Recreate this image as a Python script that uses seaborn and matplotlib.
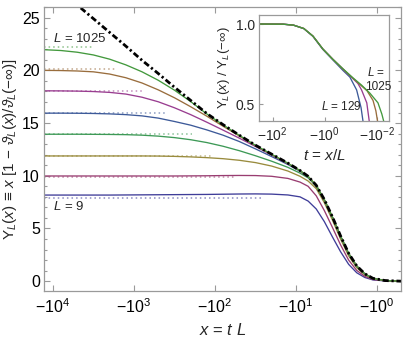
import colorsys
import numpy as np
import pandas as pd
import matplotlib
matplotlib.use("Agg")
import matplotlib.pyplot as plt
import seaborn as sns
from matplotlib.ticker import FixedLocator, FuncFormatter, MultipleLocator, NullLocator

sns.set_theme(style="ticks")
plt.rcParams['font.family'] = ['Liberation Sans', 'DejaVu Sans']
plt.rcParams['mathtext.fontset'] = 'custom'
plt.rcParams['mathtext.rm'] = 'Liberation Sans'
plt.rcParams['mathtext.it'] = 'Liberation Sans:italic'
plt.rcParams['mathtext.sf'] = 'Liberation Sans'
plt.rcParams['mathtext.fallback'] = 'stixsans'

# ---------------- data (main panel) ----------------
# log10 |x| grid
log_abs_x = [4.11, 3.9, 3.7, 3.5, 3.3, 3.1, 2.9, 2.7, 2.5, 2.3, 2.1, 1.9, 1.7, 1.5,
             1.3, 1.1, 0.95, 0.85, 0.75, 0.65, 0.55, 0.45, 0.35, 0.25, 0.15, 0.05, -0.1, -0.3]
L_values = [9, 17, 33, 65, 129, 257, 513, 1025]
Y_L9 = [8.17, 8.17, 8.17, 8.17, 8.17, 8.18, 8.19, 8.2, 8.21, 8.22, 8.23, 8.25, 8.27, 8.28,
        8.26, 8.18, 8.0, 7.6, 6.85, 5.65, 4.2, 2.8, 1.6, 0.8, 0.35, 0.12, 0.03, 0.0]
Y_L17 = [9.98, 9.98, 9.98, 9.98, 9.98, 9.98, 9.98, 9.98, 9.98, 9.99, 10.0, 10.02, 10.03, 10.02,
         9.95, 9.75, 9.4, 9.0, 8.1, 6.7, 5.1, 3.45, 2.0, 1.02, 0.46, 0.16, 0.04, 0.0]
Y_L33 = [11.88, 11.88, 11.88, 11.88, 11.88, 11.88, 11.88, 11.87, 11.84, 11.79, 11.72, 11.62, 11.47, 11.25,
         10.92, 10.45, 9.95, 9.5, 8.78, 7.45, 5.8, 4.0, 2.4, 1.28, 0.6, 0.22, 0.05, 0.0]
Y_L65 = [13.94, 13.94, 13.94, 13.93, 13.92, 13.9, 13.85, 13.76, 13.62, 13.42, 13.15, 12.8, 12.38, 11.9,
         11.38, 10.8, 10.25, 9.8, 9.0, 7.68, 6.04, 4.25, 2.6, 1.41, 0.67, 0.25, 0.06, 0.0]
Y_L129 = [15.94, 15.94, 15.93, 15.91, 15.87, 15.8, 15.68, 15.47, 15.15, 14.8, 14.35, 13.85, 13.25, 12.55,
          11.82, 11.07, 10.43, 9.9, 9.06, 7.71, 6.06, 4.26, 2.61, 1.42, 0.68, 0.26, 0.06, 0.0]
Y_L257 = [18.06, 18.05, 18.03, 17.99, 17.91, 17.75, 17.45, 17.02, 16.45, 15.8, 15.08, 14.33, 13.57, 12.78,
          11.96, 11.15, 10.47, 9.92, 9.07, 7.72, 6.07, 4.27, 2.62, 1.43, 0.69, 0.26, 0.06, 0.0]
Y_L513 = [20.0, 19.98, 19.94, 19.86, 19.65, 19.3, 18.8, 18.15, 17.4, 16.55, 15.65, 14.7, 13.78, 12.86,
          12.02, 11.18, 10.48, 9.93, 9.08, 7.73, 6.08, 4.28, 2.63, 1.43, 0.69, 0.26, 0.06, 0.0]
Y_L1025 = [21.96, 21.88, 21.72, 21.46, 21.06, 20.52, 19.86, 19.06, 18.12, 17.04, 15.86, 14.83, 13.84, 12.89,
           12.04, 11.19, 10.49, 9.94, 9.09, 7.74, 6.09, 4.29, 2.64, 1.44, 0.7, 0.27, 0.06, 0.0]
Y_inf = [28.85, 27.5, 26.2, 24.9, 23.6, 22.3, 20.95, 19.7, 18.4, 17.15, 15.9, 14.85, 13.85, 12.9,
         12.05, 11.2, 10.5, 9.95, 9.1, 7.75, 6.1, 4.3, 2.65, 1.45, 0.7, 0.27, 0.06, 0.0]
Y_curves = [Y_L9, Y_L17, Y_L33, Y_L65, Y_L129, Y_L257, Y_L513, Y_L1025]

# asymptotic plateau levels (dotted) and where the dotted guide ends (|x|)
plateau_levels = [7.92, 9.89, 11.88, 13.94, 15.94, 18.06, 20.1, 22.2]
plateau_end_abs_x = [27, 56, 110, 190, 390, 780, 1630, 3300]
plateau_start_abs_x = 12900

# ---------------- data (inset) ----------------
inset_L = [129, 257, 513, 1025]
inset_log_t = {
    129: [2.52, 1.6, 1.2, 0.8, 0.45, 0.07, -0.32, -0.70, -0.97, -1.23, -1.40, -1.48, -1.53],
    257: [2.52, 1.6, 1.2, 0.8, 0.45, 0.07, -0.32, -0.70, -1.09, -1.28, -1.42, -1.62, -1.72, -1.78],
    513: [2.52, 1.6, 1.2, 0.8, 0.45, 0.07, -0.32, -0.70, -1.09, -1.42, -1.63, -1.86, -1.97, -2.04, -2.1],
    1025: [2.52, 1.6, 1.2, 0.8, 0.45, 0.07, -0.32, -0.70, -1.09, -1.42, -1.74, -2.05, -2.2, -2.28, -2.35],
}
inset_ratio = {
    129: [1.0, 0.999, 0.993, 0.971, 0.923, 0.842, 0.776, 0.712, 0.67, 0.59, 0.48, 0.39, 0.3],
    257: [1.0, 0.999, 0.993, 0.972, 0.925, 0.845, 0.78, 0.72, 0.66, 0.63, 0.59, 0.51, 0.39, 0.3],
    513: [1.0, 0.999, 0.993, 0.972, 0.925, 0.845, 0.78, 0.721, 0.663, 0.615, 0.585, 0.525, 0.46, 0.39, 0.3],
    1025: [1.0, 0.999, 0.993, 0.972, 0.925, 0.845, 0.78, 0.722, 0.665, 0.62, 0.57, 0.51, 0.44, 0.39, 0.3],
}

# Mathematica-style default hues
hues = [0.67, 0.906, 0.142, 0.378, 0.614, 0.850, 0.0864, 0.322]
colors = {L: colorsys.hsv_to_rgb(h, 0.6, 0.6) for L, h in zip(L_values, hues)}
light = {L: tuple(0.6 * c + 0.4 for c in colors[L]) for L in L_values}

frame_col = '#9a9a9a'

fig = plt.figure(figsize=(4.03, 3.38), dpi=100)
ax = fig.add_axes([0.109, 0.14, 0.886, 0.839])

abs_x = [10 ** v for v in log_abs_x]

# dotted plateau guides
for L, lev, xe in zip(L_values, plateau_levels, plateau_end_abs_x):
    sns.lineplot(x=[plateau_start_abs_x, xe], y=[lev, lev], ax=ax, color=light[L],
                 lw=1.1, linestyle=(0, (1, 2)), sort=False, estimator=None)

df = pd.DataFrame({
    'absx': np.tile(abs_x, len(L_values)),
    'Y': np.concatenate([np.array(y) for y in Y_curves]),
    'L': np.repeat([str(L) for L in L_values], len(abs_x)),
})
sns.lineplot(data=df, x='absx', y='Y', hue='L', ax=ax, legend=False, sort=False,
             estimator=None, lw=0.95,
             palette={str(L): colors[L] for L in L_values})
sns.lineplot(x=abs_x, y=Y_inf, ax=ax, color='black', lw=2.0,
             linestyle=(0, (2.2, 1.0, 0.8, 1.0)), sort=False, estimator=None)

ax.set_xscale('log')
ax.set_xlim(10 ** 4.111, 10 ** -0.296)
ax.set_ylim(-0.9, 26.0)
ax.xaxis.set_major_locator(FixedLocator([1e4, 1e3, 1e2, 1e1, 1e0]))
ax.xaxis.set_minor_locator(NullLocator())
ax.xaxis.set_major_formatter(FuncFormatter(lambda v, p: r'$-10^{%d}$' % int(round(np.log10(v)))))
ax.yaxis.set_major_locator(MultipleLocator(5))
ax.yaxis.set_minor_locator(MultipleLocator(1))
ax.tick_params(which='both', direction='in', top=True, right=True, color=frame_col,
               labelsize=11.5, labelcolor='black', width=0.8)
ax.tick_params(which='major', length=4)
ax.tick_params(which='minor', length=2.2)
ax.tick_params(axis='y', pad=3)
ax.tick_params(axis='x', pad=5)
for s in ax.spines.values():
    s.set_color(frame_col)
    s.set_linewidth(0.9)
ax.set_xlabel(r'$x$ = $t\ L$', fontsize=12, labelpad=4)
ax.set_ylabel(r'$\Upsilon_L(x)\, \equiv\, x\ [1\, -\, \vartheta_L(x)/\vartheta_L(-\infty)]$',
              fontsize=11, labelpad=2)

fig.text(53 / 403, 1 - 38 / 338, r'$L$ = 1025', fontsize=9.5, ha='left', va='center')
fig.text(53 / 403, 1 - 207 / 338, r'$L$ = 9', fontsize=9.5, ha='left', va='center')

# ---------------- inset ----------------
axi = fig.add_axes([0.643, 0.642, 0.3226, 0.3136])
for L in inset_L:
    sns.lineplot(x=[10 ** v for v in inset_log_t[L]], y=inset_ratio[L], ax=axi,
                 color=colors[L], lw=0.95, sort=False, estimator=None)
axi.set_xscale('log')
axi.set_xlim(10 ** 2.52, 10 ** -2.48)
axi.set_ylim(0.397, 1.056)
axi.xaxis.set_major_locator(FixedLocator([1e2, 1e0, 1e-2]))
axi.xaxis.set_minor_locator(NullLocator())
axi.xaxis.set_major_formatter(FuncFormatter(lambda v, p: r'$-10^{%d}$' % int(round(np.log10(v)))))
axi.yaxis.set_major_locator(FixedLocator([0.5, 1.0]))
axi.yaxis.set_major_formatter(FuncFormatter(lambda v, p: '%.1f' % v))
axi.yaxis.set_minor_locator(NullLocator())
axi.tick_params(which='both', direction='in', color=frame_col, labelsize=10,
                length=3, width=0.8, pad=3)
for s in axi.spines.values():
    s.set_color(frame_col)
    s.set_linewidth(0.9)
axi.set_xlabel(r'$t$ = $x/L$', fontsize=11, labelpad=3)
axi.set_ylabel(r'$\Upsilon_L(x)$ / $\Upsilon_L(-\infty)$', fontsize=9.5, labelpad=3)
fig.text(341 / 403, 1 - 107 / 338, r'$L$ = 129', fontsize=8.5, ha='center', va='center')
fig.text(376 / 403, 1 - 73 / 338, r'$L$ =', fontsize=8.5, ha='center', va='center')
fig.text(378 / 403, 1 - 87 / 338, '1025', fontsize=8.5, ha='center', va='center')

fig.savefig('out.png', dpi=100)
